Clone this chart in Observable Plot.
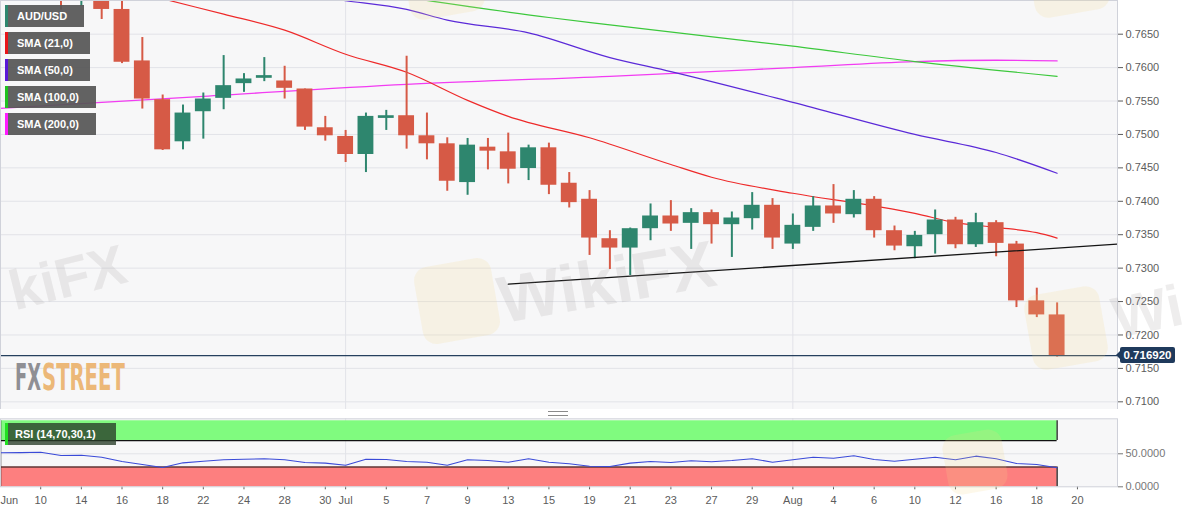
<!DOCTYPE html>
<html><head><meta charset="utf-8">
<script src="https://cdn.jsdelivr.net/npm/d3@7"></script>
<script src="https://cdn.jsdelivr.net/npm/@observablehq/plot@0.6"></script>
<style>
html,body{margin:0;padding:0;background:#fff;width:1194px;height:513px;overflow:hidden;font-family:"Liberation Sans",Arial,sans-serif;}
#wrap{position:relative;width:1194px;height:513px;overflow:hidden;}
.abs{position:absolute;}
.leg{position:absolute;left:5px;height:22px;background:rgba(86,86,86,0.93);color:#fff;font-weight:bold;font-size:11px;line-height:22px;padding-left:12px;box-sizing:border-box;white-space:nowrap;}
.leg i{position:absolute;left:0;top:0;width:3px;height:100%;}
.wm{position:absolute;font-family:"Liberation Sans",Arial,sans-serif;font-weight:bold;color:rgba(150,140,140,0.16);white-space:nowrap;pointer-events:none;}
.logo{position:absolute;border-radius:14px;background:rgba(245,215,140,0.18);pointer-events:none;}
</style></head><body><div id="wrap"></div>
<script>
// ---------- data ----------
const tradingDays = ["Jun 8","Jun 9","Jun 10","Jun 11","Jun 14","Jun 15","Jun 16","Jun 17","Jun 18","Jun 21","Jun 22","Jun 23","Jun 24","Jun 25","Jun 28","Jun 29","Jun 30",
 "Jul 1","Jul 2","Jul 5","Jul 6","Jul 7","Jul 8","Jul 9","Jul 12","Jul 13","Jul 14","Jul 15","Jul 16","Jul 19","Jul 20","Jul 21","Jul 22","Jul 23","Jul 26","Jul 27","Jul 28","Jul 29","Jul 30",
 "Aug 2","Aug 3","Aug 4","Aug 5","Aug 6","Aug 9","Aug 10","Aug 11","Aug 12","Aug 13","Aug 16","Aug 17","Aug 18","Aug 19","Aug 20"];

const candleDays = ["Jun 11","Jun 14","Jun 15","Jun 16","Jun 17","Jun 18","Jun 21","Jun 22","Jun 23","Jun 24","Jun 25","Jun 28","Jun 29","Jun 30",
 "Jul 1","Jul 2","Jul 5","Jul 6","Jul 7","Jul 8","Jul 9","Jul 12","Jul 13","Jul 14","Jul 15","Jul 16","Jul 19","Jul 20","Jul 21","Jul 22","Jul 23","Jul 26","Jul 27","Jul 28","Jul 29","Jul 30",
 "Aug 2","Aug 3","Aug 4","Aug 5","Aug 6","Aug 9","Aug 10","Aug 11","Aug 12","Aug 13","Aug 16","Aug 17","Aug 18","Aug 19"];
const open  = [0.7745,0.7705,0.7712,0.7687,0.7610,0.7552,0.7489,0.7534,0.7554,0.7576,0.7584,0.7580,0.7568,0.7510,0.7497,0.7470,0.7524,0.7528,0.7498,0.7486,0.7428,0.7481,0.7474,0.7449,0.7480,0.7427,0.7403,0.7344,0.7330,0.7359,0.7378,0.7367,0.7383,0.7365,0.7374,0.7394,0.7336,0.7361,0.7393,0.7380,0.7403,0.7356,0.7332,0.7350,0.7372,0.7335,0.7368,0.7336,0.7251,0.7230];
const high  = [0.7760,0.7722,0.7720,0.7712,0.7645,0.7559,0.7544,0.7562,0.7618,0.7591,0.7615,0.7602,0.7568,0.7527,0.7506,0.7532,0.7536,0.7617,0.7532,0.7495,0.7494,0.7494,0.7502,0.7484,0.7487,0.7443,0.7416,0.7356,0.7360,0.7396,0.7401,0.7389,0.7387,0.7384,0.7413,0.7404,0.7381,0.7407,0.7425,0.7416,0.7407,0.7363,0.7355,0.7387,0.7376,0.7382,0.7371,0.7340,0.7270,0.7248];
const low   = [0.7686,0.7692,0.7672,0.7606,0.7538,0.7476,0.7477,0.7493,0.7537,0.7563,0.7579,0.7553,0.7506,0.7490,0.7458,0.7443,0.7506,0.7478,0.7462,0.7415,0.7409,0.7447,0.7426,0.7431,0.7410,0.7390,0.7319,0.7298,0.7289,0.7341,0.7355,0.7328,0.7336,0.7316,0.7357,0.7328,0.7328,0.7355,0.7367,0.7375,0.7345,0.7326,0.7314,0.7321,0.7329,0.7331,0.7317,0.7241,0.7226,0.7167];
const close = [0.7715,0.7712,0.7687,0.7608,0.7553,0.7477,0.7532,0.7553,0.7573,0.7583,0.7588,0.7569,0.7511,0.7498,0.7470,0.7527,0.7528,0.7498,0.7486,0.7430,0.7484,0.7475,0.7448,0.7480,0.7424,0.7398,0.7345,0.7330,0.7359,0.7378,0.7366,0.7383,0.7365,0.7375,0.7394,0.7345,0.7364,0.7393,0.7381,0.7403,0.7356,0.7333,0.7349,0.7372,0.7335,0.7368,0.7337,0.7251,0.7230,0.716920];

// moving averages: [trading-day index, value]
const sma21  = [[7,0.7711],[8,0.7703],[11,0.7680],[14,0.7656],[17,0.7620],[20,0.7593],[23,0.7551],[25,0.7527],[29,0.7495],[33,0.7455],[35,0.7436],[39,0.7412],[43,0.7393],[45,0.7382],[47,0.7368],[49,0.7361],[51,0.7353],[52,0.7345]];
const sma50  = [[16,0.7704],[17,0.7700],[20,0.7687],[22,0.7671],[26,0.7652],[30,0.7615],[33,0.7594],[39,0.7548],[45,0.7500],[49,0.7473],[52,0.7442]];
const sma100 = [[20,0.7705],[27,0.7675],[30,0.7664],[39,0.7632],[45,0.7609],[52,0.7587]];
const sma200 = [[0,0.7539],[10,0.7557],[20,0.7575],[30,0.7587],[39,0.7600],[45,0.7609],[49,0.7611],[52,0.7610]];
const trendLine = [[25,0.7276],[55,0.7336]];

const rsi = [51.5,51.8,52.4,47.4,47.9,44.8,38.3,33.8,29.2,36.3,38.8,40.9,41.8,42.4,40.9,36.8,35.8,32.7,41.8,41.4,38.3,37.3,32.7,40.9,39.8,37.3,42.4,37.3,34.8,31.2,30.8,35.8,38.3,36.8,39.4,37.9,39.8,42.4,37.3,40.9,44.8,43.3,47.0,41.4,38.8,41.8,44.8,40.9,46.4,42.4,35.3,33.8,28.8];
const rsiUpper = 70, rsiLower = 30, rsiMax = 100;

const priceTicks = [0.7100,0.7150,0.7200,0.7250,0.7300,0.7350,0.7400,0.7450,0.7500,0.7550,0.7600,0.7650];
const rsiTicks = [0, 50];
const tickDays   = ["Jun 8","Jun 10","Jun 14","Jun 16","Jun 18","Jun 22","Jun 24","Jun 28","Jun 30","Jul 1","Jul 5","Jul 7","Jul 9","Jul 13","Jul 15","Jul 19","Jul 21","Jul 23","Jul 27","Jul 29","Aug 2","Aug 4","Aug 6","Aug 10","Aug 12","Aug 16","Aug 18","Aug 20"];
const tickLabels = ["Jun","10","14","16","18","22","24","28","30","Jul","5","7","9","13","15","19","21","23","27","29","Aug","4","6","10","12","16","18","20"];
const monthDays = ["Jul 1","Aug 2"];

const legendNames  = ["AUD/USD","SMA (21,0)","SMA (50,0)","SMA (100,0)","SMA (200,0)"];
const legendColors = ["#2e866e","#e8141a","#5a18d6","#1fc21f","#ff1cff"];
const rsiName = "RSI (14,70,30,1)";

// ---------- build ----------
const wrap = document.getElementById("wrap");
try {
  const W = 1194;
  const FONT = "Liberation Sans, Arial, sans-serif";
  const idx = d => tradingDays.indexOf(d);
  const X = [0.0226, 54.97];
  const UP = "#2e866e", DOWN = "#d65a46";
  const half = 0.39;
  const candles = candleDays.map((d, k) => ({i: idx(d), open: open[k], high: high[k], low: low[k], close: close[k], c: close[k] >= open[k] ? UP : DOWN}));
  const pts = a => a.map(([i, v]) => ({i, v}));
  const lastClose = close[close.length - 1];
  const lastIdx = candles[candles.length - 1].i;
  const months = monthDays.map(idx);
  const ticks = tickDays.map(idx);
  const labelOf = new Map(ticks.map((t, k) => [t, tickLabels[k]]));
  const grid = "#e2e3e8";

  const price = Plot.plot({
    width: W, height: 409,
    marginLeft: 0, marginRight: 77, marginTop: 0, marginBottom: 0,
    x: {domain: X, axis: null},
    y: {domain: [0.70885, 0.77004], axis: null},
    color: {type: "identity"},
    style: {fontFamily: FONT, fontSize: "11px", background: "transparent", overflow: "hidden"},
    marks: [
      Plot.frame({fill: "#f7f7f8", stroke: "none"}),
      Plot.gridY(priceTicks, {stroke: grid, strokeOpacity: 1}),
      Plot.ruleX(months, {stroke: grid}),
      Plot.line(pts(sma200), {x: "i", y: "v", stroke: "#f23cf2", strokeWidth: 1.3, curve: "monotone-x", clip: true}),
      Plot.line(pts(sma100), {x: "i", y: "v", stroke: "#3cc83c", strokeWidth: 1.2, curve: "monotone-x", clip: true}),
      Plot.line(pts(sma50), {x: "i", y: "v", stroke: "#5b2ad8", strokeWidth: 1.2, curve: "monotone-x", clip: true}),
      Plot.line(pts(sma21), {x: "i", y: "v", stroke: "#ee2a2a", strokeWidth: 1.2, curve: "monotone-x", clip: true}),
      Plot.ruleX(candles, {x: "i", y1: "low", y2: "high", stroke: "c", strokeWidth: 2, clip: true}),
      Plot.rect(candles, {x1: d => d.i - half, x2: d => d.i + half, y1: "open", y2: "close", fill: "c", clip: true}),
      Plot.line(pts(trendLine), {x: "i", y: "v", stroke: "#151515", strokeWidth: 1.3, clip: true}),
      Plot.ruleY([lastClose], {stroke: "#26405e", strokeWidth: 1.2}),
      Plot.axisY({ticks: priceTicks, anchor: "right", label: null, tickFormat: d3.format(".4f"), tickSize: 5, tickPadding: 3, fontSize: 11, color: "#5c5c5c"}),
      Plot.frame({stroke: "#d0d2da"})
    ]
  });
  price.style.position = "absolute"; price.style.left = "0px"; price.style.top = "0px";
  wrap.appendChild(price);

  const rsiData = rsi.map((v, i) => ({i, v}));
  const rsiPlot = Plot.plot({
    width: W, height: 104,
    marginLeft: 0, marginRight: 77, marginTop: 9.3, marginBottom: 26.7,
    x: {domain: X, axis: null},
    y: {domain: [0, 103], axis: null},
    style: {fontFamily: FONT, fontSize: "11px", background: "transparent", overflow: "hidden"},
    marks: [
      Plot.frame({fill: "#f7f7f8", stroke: "none"}),
      Plot.gridY([50], {stroke: grid, strokeOpacity: 1}),
      Plot.ruleX(months, {stroke: grid}),
      Plot.rect([rsiUpper], {x1: () => X[0], x2: () => lastIdx, y1: () => rsiUpper, y2: () => rsiMax, fill: "#80fb7f"}),
      Plot.rect([rsiLower], {x1: () => X[0], x2: () => lastIdx, y1: () => 0, y2: () => rsiLower, fill: "#fd7f7f"}),
      Plot.ruleY([rsiUpper, rsiLower], {x1: () => X[0], x2: () => lastIdx, stroke: "#111", strokeWidth: 1.2}),
      Plot.ruleX([lastIdx], {y1: () => rsiUpper, y2: () => rsiMax, stroke: "#111", strokeWidth: 1.2}),
      Plot.ruleX([lastIdx], {y1: () => 0, y2: () => rsiLower, stroke: "#111", strokeWidth: 1.2}),
      Plot.ruleX([X[0]], {y1: () => 0, y2: () => rsiMax, stroke: "#333", strokeWidth: 1.5}),
      Plot.line(rsiData, {x: "i", y: "v", stroke: "#3a4ad8", strokeWidth: 1.1, clip: true}),
      Plot.axisY({ticks: rsiTicks, anchor: "right", label: null, tickFormat: d3.format(".4f"), tickSize: 5, tickPadding: 3, fontSize: 11, color: "#777"}),
      Plot.axisX({ticks: ticks.slice(1), anchor: "bottom", label: null, tickFormat: t => labelOf.get(t), tickSize: 3, tickPadding: 6, fontSize: 11, color: "#5c5c5c"}),
      Plot.text([tickLabels[0]], {x: () => X[0], frameAnchor: "bottom", textAnchor: "start", lineAnchor: "top", dy: 9, fontSize: 11, fill: "#5c5c5c"}),
      Plot.frame({stroke: "#d0d2da"})
    ]
  });
  rsiPlot.style.position = "absolute"; rsiPlot.style.left = "0px"; rsiPlot.style.top = "409px";
  wrap.appendChild(rsiPlot);

  // pane separator handle
  const handle = document.createElement("div");
  handle.className = "abs";
  Object.assign(handle.style, {left: "548px", top: "411px", width: "20px", height: "3px", borderTop: "1px solid #8a8a8a", borderBottom: "1px solid #8a8a8a"});
  wrap.appendChild(handle);

  // legends
  legendNames.forEach((name, k) => {
    const d = document.createElement("div");
    d.className = "leg";
    d.style.top = (5 + k * 27) + "px";
    d.style.width = (k === 0 ? 79 : k < 3 ? 85 : 91) + "px";
    d.innerHTML = `<i style="background:${legendColors[k]}"></i>`;
    d.appendChild(document.createTextNode(name));
    wrap.appendChild(d);
  });
  const rl = document.createElement("div");
  rl.className = "leg";
  Object.assign(rl.style, {top: "423px", left: "5px", width: "111px", background: "rgba(40,60,40,0.78)", paddingLeft: "10px"});
  rl.innerHTML = `<i style="background:#22e022"></i>`;
  rl.appendChild(document.createTextNode(rsiName));
  wrap.appendChild(rl);

  // current price label
  const yLast = price.scale("y").apply(lastClose);
  const lab = document.createElement("div");
  lab.className = "abs";
  Object.assign(lab.style, {left: "1120px", top: (yLast - 8) + "px", width: "55px", height: "16px", background: "#1f3a5c", color: "#fff", fontWeight: "bold", fontSize: "11.5px", lineHeight: "16px", textAlign: "center", borderRadius: "2px"});
  lab.textContent = d3.format(".6f")(lastClose);
  wrap.appendChild(lab);
  const arr = document.createElement("div");
  arr.className = "abs";
  Object.assign(arr.style, {left: "1116px", top: (yLast - 4) + "px", width: "0", height: "0", borderTop: "4px solid transparent", borderBottom: "4px solid transparent", borderRight: "4px solid #1f3a5c"});
  wrap.appendChild(arr);

  // FXStreet logo: each word measured, then scaled to its box
  const ns = "http://www.w3.org/2000/svg";
  const lg = document.createElementNS(ns, "svg");
  lg.setAttribute("width", "130"); lg.setAttribute("height", "34");
  Object.assign(lg.style, {position: "absolute", left: "14px", top: "360px", overflow: "visible"});
  wrap.appendChild(lg);
  const word = (txt, x0, w, fill) => {
    const t = document.createElementNS(ns, "text");
    t.setAttribute("font-family", "DejaVu Sans Condensed, Liberation Sans Narrow, sans-serif");
    t.setAttribute("font-weight", "bold");
    t.setAttribute("font-size", "37");
    t.setAttribute("fill", fill);
    t.setAttribute("x", "0"); t.setAttribute("y", "0");
    t.textContent = txt;
    lg.appendChild(t);
    const nat = t.getBBox().width || w;
    t.setAttribute("transform", `translate(${x0},30) scale(${w / nat},1)`);
  };
  word("FX", 1, 26, "#8f8f94");
  word("STREET", 28, 83, "#ecb878");

  // watermarks
  const wm = (txt, left, top, size, rot) => {
    const d = document.createElement("div");
    d.className = "wm"; d.textContent = txt;
    Object.assign(d.style, {left: left + "px", top: top + "px", fontSize: size + "px", transform: `rotate(${rot}deg)`, transformOrigin: "left bottom"});
    wrap.appendChild(d);
  };
  const logo = (l, t, s) => {
    const d = document.createElement("div");
    d.className = "logo";
    Object.assign(d.style, {left: l + "px", top: t + "px", width: s + "px", height: s + "px", transform: "rotate(-10deg)"});
    wrap.appendChild(d);
  };
  logo(418, 262, 78); logo(1028, 290, 76); logo(405, -60, 76); logo(1030, -62, 76); logo(945, 432, 60);
  wm("WikiFX", 505, 262, 66, -10);
  wm("kiFX", 18, 258, 56, -14);
  wm("Wi", 1120, 284, 58, -12);
} catch (e) {
  wrap.textContent = "Error: " + e.message;
}
</script></body></html>
